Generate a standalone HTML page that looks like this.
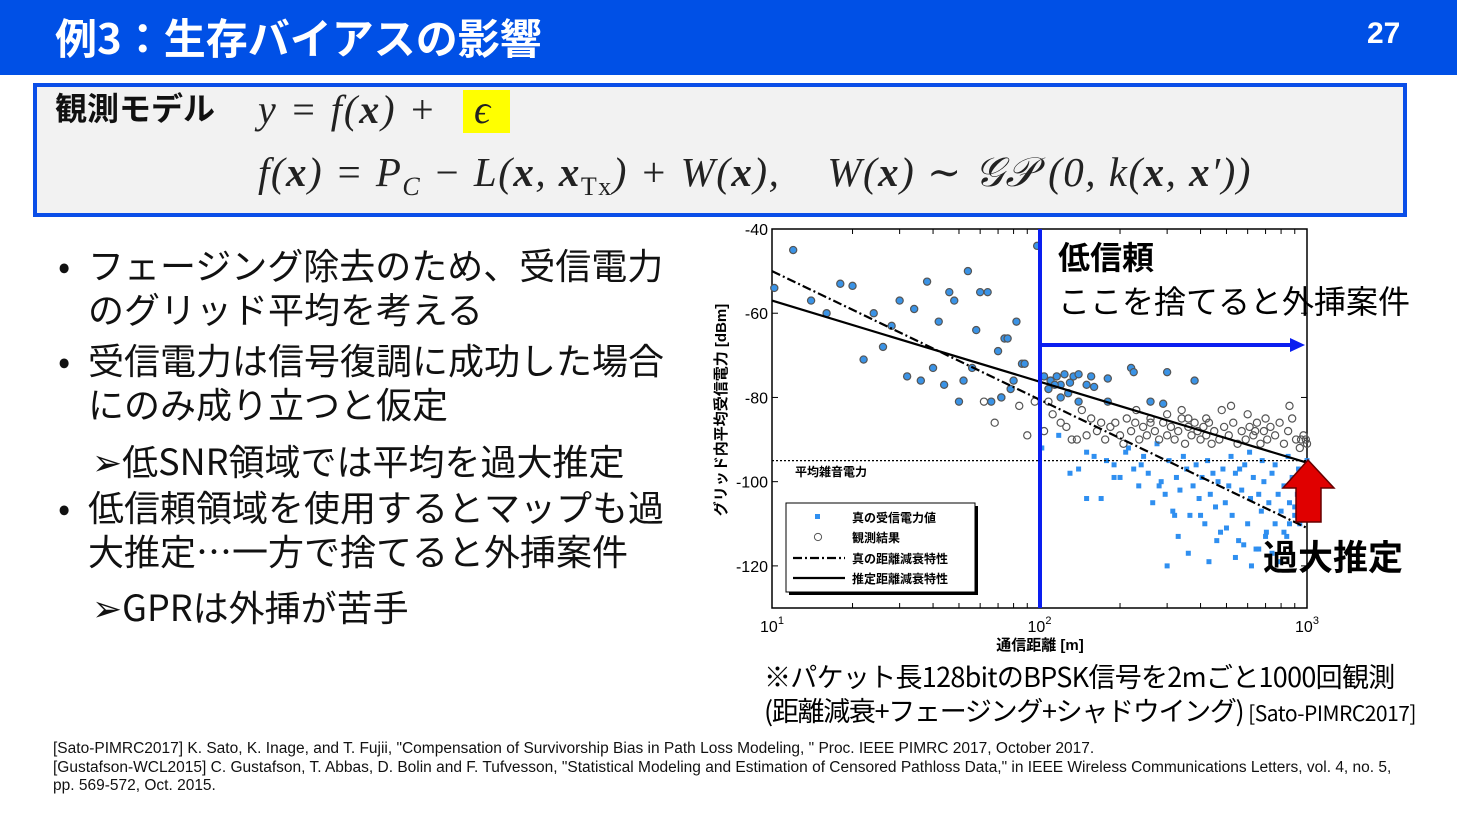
<!DOCTYPE html>
<html><head><meta charset="utf-8">
<style>
body{margin:0;width:1457px;height:822px;overflow:hidden;background:#fff;font-family:"Liberation Sans","Noto Sans CJK JP",sans-serif;position:relative}
.a{position:absolute;white-space:nowrap}
.m{font-family:"Liberation Serif","DejaVu Serif",serif;font-style:italic;color:#222}
.bl{font-size:36px;color:#111;font-family:"Noto Sans CJK JP",sans-serif}
.bd{position:absolute;left:-30px}
</style></head><body>
<div class="a" style="left:0;top:0;width:1457px;height:75px;background:#0050e6"></div>
<div class="a" style="left:55px;top:6px;font-size:42px;font-weight:bold;color:#fff;font-family:'Noto Sans CJK JP',sans-serif">例3：生存バイアスの影響</div>
<div class="a" style="left:1367px;top:17px;font-size:30px;font-weight:bold;color:#fff">27</div>
<div class="a" style="left:33px;top:83px;width:1366px;height:126px;background:#f2f2f2;border:4px solid #0a4ee8"></div>
<div class="a" style="left:55px;top:84px;font-size:32px;font-weight:bold;font-family:'Noto Sans CJK JP',sans-serif;color:#111">観測モデル</div>
<div class="a" style="left:463px;top:90px;width:47px;height:43px;background:#ffff00"></div>
<div class="a m" style="left:258px;top:86px;font-size:40px;letter-spacing:2px">y = f(<b>x</b>) +</div>
<div class="a m" style="left:474px;top:86px;font-size:40px">ϵ</div>
<div class="a m" style="left:258px;top:148px;font-size:41px;letter-spacing:1.5px">f(<b>x</b>) = P<sub style="font-size:26px">C</sub> − L(<b>x</b>, <b>x</b><sub style="font-size:26px;font-style:normal">Tx</sub>) + W(<b>x</b>), &nbsp;&nbsp; W(<b>x</b>) ∼ 𝒢𝒫 (0, k(<b>x</b>, <b>x</b>′))</div>

<div class="a bl" style="left:88px;top:242px;line-height:44px"><span class="bd">•</span>フェージング除去のため、受信電力<br>のグリッド平均を考える</div>
<div class="a bl" style="left:88px;top:337px;line-height:44px"><span class="bd">•</span>受信電力は信号復調に成功した場合<br>にのみ成り立つと仮定</div>
<div class="a bl" style="left:92px;top:434px">➢低SNR領域では平均を過大推定</div>
<div class="a bl" style="left:88px;top:484px;line-height:44px"><span class="bd">•</span>低信頼領域を使用するとマップも過<br>大推定…一方で捨てると外挿案件</div>
<div class="a bl" style="left:92px;top:580px">➢GPRは外挿が苦手</div>

<svg class="a" id="chart" style="left:0;top:0" width="1457" height="822"></svg>

<div class="a" style="left:1058px;top:233px;font-size:32px;font-weight:bold;font-family:'Noto Sans CJK JP',sans-serif">低信頼</div>
<div class="a" style="left:1058px;top:277px;font-size:32px;font-family:'Noto Sans CJK JP',sans-serif">ここを捨てると外挿案件</div>
<div class="a" style="left:1263px;top:530px;font-size:35px;font-weight:bold;font-family:'Noto Sans CJK JP',sans-serif">過大推定</div>
<div class="a" style="left:764px;top:656px;font-size:27px;letter-spacing:-0.7px;font-family:'Noto Sans CJK JP',sans-serif">※パケット長128bitのBPSK信号を2mごと1000回観測</div>
<div class="a" style="left:764px;top:690px;font-size:27px;letter-spacing:-1.3px;font-family:'Noto Sans CJK JP',sans-serif">(距離減衰+フェージング+シャドウイング) <span style="font-size:21px;letter-spacing:-0.5px">[Sato-PIMRC2017]</span></div>
<div class="a" style="left:53px;top:740px;font-size:15.5px;line-height:18.5px;letter-spacing:0px;color:#111">[Sato-PIMRC2017] K. Sato, K. Inage, and T. Fujii, "Compensation of Survivorship Bias in Path Loss Modeling, " Proc. IEEE PIMRC 2017, October 2017.<br>[Gustafson-WCL2015] C. Gustafson, T. Abbas, D. Bolin and F. Tufvesson, "Statistical Modeling and Estimation of Censored Pathloss Data," in IEEE Wireless Communications Letters, vol. 4, no. 5,<br>pp. 569-572, Oct. 2015.</div>

<script>
const filledD=[10.2,12,14,16,18,20,22,24,26,28,30,32,34,36,38,40,42,44,46,48,50,52,54,56,58,60,64,70,74,76,80,82,86,88,98,78,72,66,104,110,116,120,124,130,134,140,150,156,160,180,220,225,300,380,120,140,260,290,180,108,114,128];
const filledY=[-54,-45,-57,-60,-53,-53.5,-71,-60,-68,-63,-57,-75,-59,-76,-52.5,-73,-62,-77,-55,-57,-81,-76,-50,-73,-64,-55,-55,-69,-66,-66,-76,-62,-72,-72,-44,-78,-80,-81,-75,-76,-75,-77,-74.5,-76.5,-75,-74.5,-77,-75,-77.5,-75.5,-73,-74,-74,-76,-80,-81,-81,-81.5,-81,-78,-77,-79];
const openD=[62,68,72,84,90,96,104,108,112,120,126,132,138,144,150,156,164,170,176,184,192,200,206,212,220,228,236,244,252,260,270,280,290,300,310,320,330,340,350,360,370,380,390,400,410,420,430,440,450,470,490,510,530,550,570,590,610,630,650,670,690,710,730,760,790,820,850,880,910,940,970,990,1000,230,260,340,420,520,600,700,860,950,300,360,480,640];
const openY=[-81,-86,-80,-82,-89,-81,-88,-81,-84,-86,-87,-90,-90,-83,-89,-85,-88,-86,-90,-87,-86,-89,-91,-85,-88,-86,-90,-87,-89,-85,-88,-90,-86,-89,-87,-90,-88,-85,-91,-87,-89,-86,-88,-90,-87,-89,-86,-91,-88,-90,-87,-89,-86,-91,-88,-90,-87,-89,-86,-91,-88,-90,-87,-89,-86,-91,-88,-85,-90,-92,-89,-90,-91,-83,-86,-83,-85,-82,-84,-85,-82,-90,-84,-85,-83,-88];
const sqD=[102,118,130,140,150,160,170,178,190,200,210,215,225,235,245,255,265,275,285,295,305,315,325,335,345,355,365,375,385,395,405,415,425,435,445,455,465,475,485,495,510,525,540,555,570,585,600,615,630,645,660,675,690,705,720,740,760,780,800,820,840,860,880,900,920,940,960,980,995,300,330,360,400,430,460,500,540,580,620,660,700,740,780,820,860,900,950,520,560,610,680,760,850,930,1000,150,190,240,280,320];
const sqY=[-92,-89,-98,-97,-93,-94,-104,-95,-96,-99,-93,-92,-97,-101,-94,-98,-105,-91,-100,-103,-95,-107,-99,-102,-94,-97,-108,-101,-96,-104,-99,-110,-95,-103,-98,-106,-100,-112,-97,-105,-101,-108,-98,-114,-102,-96,-110,-104,-99,-116,-103,-107,-100,-112,-105,-98,-110,-103,-107,-101,-113,-105,-99,-108,-103,-110,-104,-107,-109,-120,-113,-117,-108,-119,-114,-111,-118,-115,-120,-116,-113,-117,-119,-112,-110,-106,-103,-94,-97,-93,-95,-96,-94,-97,-95,-104,-99,-96,-101,-108];
const yTicks=[-40,-60,-80,-100,-120];
const xTicks=[10,100,1000];
const trueLine=[[10,-50],[1000,-111]];
const estLine=[[10,-57],[1000,-95.5]];
const noiseLevel=-95;
const NS='http://www.w3.org/2000/svg';
const svg=document.getElementById('chart');
const X0=772,X1=1307,Y0=229,Y1=608;
function sx(d){return X0+(Math.log10(d)-1)/2*(X1-X0);}
function sy(v){return Y0+(-40-v)/90*(Y1-Y0);}
function mk(tag,attrs,name){const e=document.createElementNS(NS,tag);for(const k in attrs)e.setAttribute(k,attrs[k]);svg.appendChild(e);return e;}
function tx(x,y,s,size,name,anchor,extra){const e=mk('text',{x:x,y:y,'font-size':size,'text-anchor':anchor||'start','font-family':'Liberation Sans, Noto Sans CJK JP, sans-serif'},name);e.textContent=s;if(extra)for(const k in extra)e.setAttribute(k,extra[k]);return e;}
mk('rect',{x:X0,y:Y0,width:X1-X0,height:Y1-Y0,fill:'#fff',stroke:'#000','stroke-width':1.5},'plot-frame');
yTicks.forEach(v=>{mk('line',{x1:X0,x2:X0+6,y1:sy(v),y2:sy(v),stroke:'#000'},'y-tick');mk('line',{x1:X1,x2:X1-6,y1:sy(v),y2:sy(v),stroke:'#000'},'y-tick-right');tx(X0-4,sy(v)+6,String(v),16,'y-tick-label','end');});
xTicks.forEach((d,i)=>{const t=tx(sx(d),632,'10',16,'x-tick-label','middle');const s=document.createElementNS(NS,'tspan');s.setAttribute('dy','-8');s.setAttribute('font-size','11');s.textContent=String(i+1);t.appendChild(s);});
for(let dec=10;dec<1000;dec*=10)for(let k=2;k<10;k++){const x=sx(dec*k);mk('line',{x1:x,x2:x,y1:Y1,y2:Y1-5,stroke:'#000'},'x-minor-tick');mk('line',{x1:x,x2:x,y1:Y0,y2:Y0+5,stroke:'#000'},'x-minor-tick-top');}
tx(1040,650,'通信距離 [m]',15,'x-axis-title','middle',{'font-weight':'bold'});
tx(0,0,'グリッド内平均受信電力 [dBm]',15,'y-axis-title','middle',{transform:'translate(726,410) rotate(-90)','font-weight':'bold'});
sqD.forEach((d,i)=>{mk('rect',{x:sx(d)-2.5,y:sy(sqY[i])-2.5,width:5,height:5,fill:'#2f8ff0'},'true-power-point');});
filledD.forEach((d,i)=>{mk('rect',{x:sx(d)-2.5,y:sy(filledY[i])-2.5,width:5,height:5,fill:'#2f8ff0'},'true-power-point');});
openD.forEach((d,i)=>{mk('circle',{cx:sx(d),cy:sy(openY[i]),r:3.6,fill:'none',stroke:'#555','stroke-width':1.2},'observed-point');});
filledD.forEach((d,i)=>{mk('circle',{cx:sx(d),cy:sy(filledY[i]),r:3.6,fill:'#3a93e6',stroke:'#555','stroke-width':1.2},'observed-point');});
mk('line',{x1:X0,x2:X1,y1:sy(noiseLevel),y2:sy(noiseLevel),stroke:'#000','stroke-width':1.3,'stroke-dasharray':'2,2'},'noise-level-line');
tx(795,476,'平均雑音電力',12,'noise-level-label','start',{'font-weight':'bold'});
mk('line',{x1:sx(trueLine[0][0]),y1:sy(trueLine[0][1]),x2:sx(trueLine[1][0]),y2:sy(trueLine[1][1]),stroke:'#000','stroke-width':2.2,'stroke-dasharray':'9,3,2,3'},'true-pathloss-line');
mk('line',{x1:sx(estLine[0][0]),y1:sy(estLine[0][1]),x2:sx(estLine[1][0]),y2:sy(estLine[1][1]),stroke:'#000','stroke-width':2.2},'estimated-pathloss-line');
mk('rect',{x:789,y:506,width:189,height:89,fill:'#000'},'legend-shadow');
mk('rect',{x:786,y:503,width:189,height:89,fill:'#fff',stroke:'#000','stroke-width':1},'legend-box');
mk('rect',{x:815,y:514,width:5,height:5,fill:'#2f8ff0'},'legend-marker-true');
tx(852,522,'真の受信電力値',12,'legend-entry-true-power','start',{'font-weight':'bold'});
mk('circle',{cx:818,cy:537,r:3.6,fill:'none',stroke:'#555'},'legend-marker-observed');
tx(852,542,'観測結果',12,'legend-entry-observed','start',{'font-weight':'bold'});
mk('line',{x1:793,x2:845,y1:558,y2:558,stroke:'#000','stroke-width':2.2,'stroke-dasharray':'9,3,2,3'},'legend-line-true');
tx(852,563,'真の距離減衰特性',12,'legend-entry-true-pathloss','start',{'font-weight':'bold'});
mk('line',{x1:793,x2:845,y1:578,y2:578,stroke:'#000','stroke-width':2.2},'legend-line-est');
tx(852,583,'推定距離減衰特性',12,'legend-entry-est-pathloss','start',{'font-weight':'bold'});
mk('line',{x1:1040,x2:1040,y1:229,y2:608,stroke:'#0a1ef0','stroke-width':4},'reliability-boundary-line');
mk('line',{x1:1042,x2:1293,y1:345,y2:345,stroke:'#0a1ef0','stroke-width':4},'extrapolation-arrow-shaft');
mk('polygon',{points:'1290,338 1305,345 1290,352',fill:'#0a1ef0'},'extrapolation-arrow-head');
mk('polygon',{points:'1308,460 1334,488 1321,488 1321,522 1296,522 1296,488 1283,488',fill:'#e00000',stroke:'#600','stroke-width':1.5},'overestimate-arrow');
</script>
</body></html>
